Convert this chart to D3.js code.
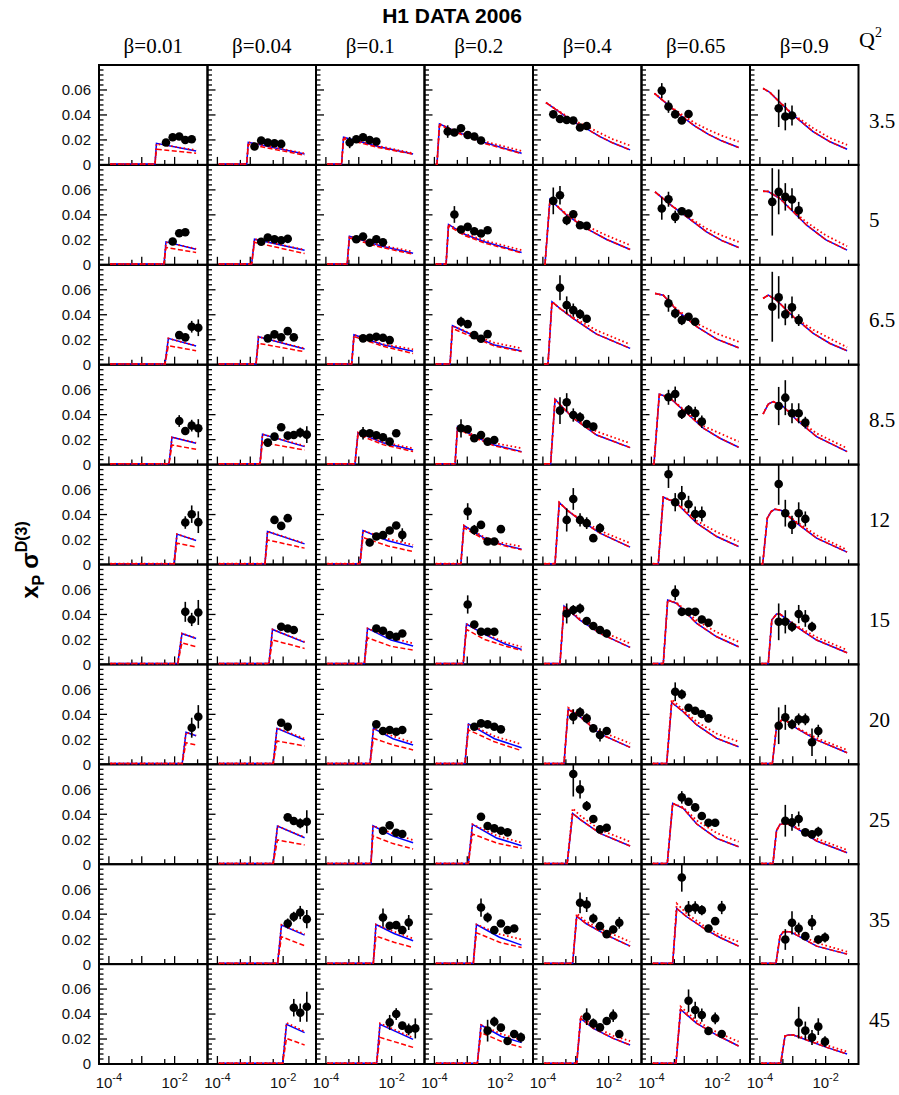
<!DOCTYPE html>
<html>
<head>
<meta charset="utf-8">
<script src="https://cdn.jsdelivr.net/npm/d3@7/dist/d3.min.js"></script>
<style>
  body { margin: 0; background: #fff; }
  svg { display: block; }
</style>
</head>
<body>
<svg id="chart" width="899" height="1095"></svg>
<script>
// Column and row headings
const betaLabels = ["0.01", "0.04", "0.1", "0.2", "0.4", "0.65", "0.9"];
const q2Labels = ["3.5", "5", "6.5", "8.5", "12", "15", "20", "25", "35", "45"];
const yTickLabels = [0, 0.02, 0.04, 0.06];
const xTickLabels = [{ v: 1e-4, exp: "-4" }, { v: 1e-2, exp: "-2" }];

// Measured points: [row (Q2), column (beta), x_IP values, x_P sigma values, errors]
const measured = [
  [0, 0, [5.46e-3, 8.73e-3, 1.38e-2, 2.11e-2, 3.31e-2], [0.0179, 0.0221, 0.0227, 0.0200, 0.0205], [0.002, 0.002, 0.002, 0.002, 0.002]],
  [0, 1, [1.35e-3, 2.15e-3, 3.42e-3, 5.46e-3, 8.73e-3], [0.0147, 0.0195, 0.0179, 0.0173, 0.0168], [0.002, 0.002, 0.002, 0.002, 0.002]],
  [0, 2, [5.3e-4, 8.41e-4, 1.35e-3, 2.15e-3, 3.42e-3], [0.0179, 0.0205, 0.0221, 0.0200, 0.0187], [0.0045, 0.002, 0.002, 0.002, 0.002]],
  [0, 3, [2.54e-4, 4.06e-4, 6.45e-4, 1.031e-3, 1.637e-3, 2.62e-3], [0.0267, 0.0259, 0.0293, 0.0240, 0.0227, 0.0195], [0.005, 0.002, 0.002, 0.002, 0.002, 0.002]],
  [0, 4, [2.07e-4, 3.31e-4, 5.3e-4, 8.41e-4, 1.35e-3, 2.15e-3], [0.0405, 0.0368, 0.0360, 0.0355, 0.0299, 0.0312], [0.003, 0.002, 0.002, 0.002, 0.002, 0.002]],
  [0, 5, [2.07e-4, 3.31e-4, 5.3e-4, 8.41e-4, 1.35e-3], [0.0595, 0.0467, 0.0405, 0.0355, 0.0408], [0.006, 0.005, 0.003, 0.002, 0.002]],
  [0, 6, [3.73e-4, 5.93e-4, 9.48e-4], [0.0453, 0.0387, 0.0395], [0.015, 0.011, 0.008]],

  [1, 0, [8.73e-3, 1.38e-2, 2.11e-2], [0.0187, 0.0253, 0.0261], [0.002, 0.002, 0.002]],
  [1, 1, [2.15e-3, 3.42e-3, 5.46e-3, 8.73e-3, 1.38e-2], [0.0184, 0.0219, 0.0205, 0.0197, 0.0208], [0.002, 0.002, 0.002, 0.002, 0.002]],
  [1, 2, [8.41e-4, 1.35e-3, 2.15e-3, 3.42e-3, 5.46e-3], [0.0205, 0.0227, 0.0176, 0.0205, 0.0181], [0.002, 0.002, 0.002, 0.002, 0.002]],
  [1, 3, [4.06e-4, 6.45e-4, 1.031e-3, 1.637e-3, 2.62e-3, 4.16e-3], [0.0403, 0.0283, 0.0304, 0.0269, 0.0251, 0.0277], [0.0067, 0.002, 0.002, 0.002, 0.002, 0.002]],
  [1, 4, [2.07e-4, 3.31e-4, 5.3e-4, 8.41e-4, 1.35e-3, 2.15e-3], [0.0512, 0.0557, 0.0357, 0.0405, 0.0317, 0.0312], [0.0107, 0.0075, 0.004, 0.003, 0.003, 0.003]],
  [1, 5, [2.07e-4, 3.31e-4, 5.3e-4, 8.41e-4, 1.35e-3], [0.0451, 0.0525, 0.0384, 0.0429, 0.0411], [0.009, 0.006, 0.005, 0.003, 0.003]],
  [1, 6, [2.38e-4, 3.73e-4, 5.93e-4, 9.48e-4, 1.515e-3], [0.0504, 0.0584, 0.0544, 0.0523, 0.0437], [0.027, 0.018, 0.011, 0.009, 0.0067]],

  [2, 0, [1.38e-2, 2.11e-2, 3.31e-2, 5.25e-2], [0.0237, 0.0219, 0.0304, 0.0296], [0.002, 0.002, 0.0047, 0.0067]],
  [2, 1, [3.42e-3, 5.46e-3, 8.73e-3, 1.38e-2, 2.11e-2], [0.0211, 0.0243, 0.0219, 0.0269, 0.0219], [0.002, 0.002, 0.002, 0.002, 0.002]],
  [2, 2, [1.35e-3, 2.15e-3, 3.42e-3, 5.46e-3, 8.73e-3], [0.0211, 0.0216, 0.0224, 0.0216, 0.0197], [0.002, 0.002, 0.002, 0.002, 0.002]],
  [2, 3, [6.45e-4, 1.031e-3, 1.637e-3, 2.62e-3, 4.16e-3], [0.0344, 0.0325, 0.0237, 0.0208, 0.0245], [0.004, 0.002, 0.002, 0.002, 0.002]],
  [2, 4, [3.31e-4, 5.3e-4, 8.41e-4, 1.35e-3, 2.15e-3], [0.0616, 0.0477, 0.0437, 0.0405, 0.0368], [0.01, 0.007, 0.0053, 0.004, 0.003]],
  [2, 5, [3.31e-4, 5.3e-4, 8.41e-4, 1.35e-3, 2.15e-3], [0.0491, 0.0411, 0.0357, 0.0384, 0.0344], [0.0067, 0.004, 0.004, 0.003, 0.003]],
  [2, 6, [2.38e-4, 3.73e-4, 5.93e-4, 9.48e-4, 1.515e-3], [0.0464, 0.0539, 0.0403, 0.0459, 0.0357], [0.028, 0.017, 0.0087, 0.0087, 0.0047]],

  [3, 0, [1.38e-2, 2.11e-2, 3.31e-2, 5.25e-2], [0.0349, 0.0269, 0.0312, 0.0291], [0.0047, 0.002, 0.0047, 0.0073]],
  [3, 1, [3.42e-3, 5.46e-3, 8.73e-3, 1.38e-2, 2.11e-2, 3.31e-2, 5.25e-2], [0.0176, 0.0224, 0.0299, 0.0232, 0.0237, 0.0256, 0.0240], [0.003, 0.002, 0.002, 0.002, 0.002, 0.004, 0.0067]],
  [3, 2, [1.35e-3, 2.15e-3, 3.42e-3, 5.46e-3, 8.73e-3, 1.38e-2], [0.0251, 0.0251, 0.0235, 0.0219, 0.0184, 0.0251], [0.005, 0.002, 0.002, 0.002, 0.002, 0.002]],
  [3, 3, [6.45e-4, 1.031e-3, 1.637e-3, 2.62e-3, 4.16e-3, 6.64e-3], [0.0291, 0.0283, 0.0211, 0.0237, 0.0184, 0.0197], [0.0073, 0.002, 0.002, 0.002, 0.002, 0.002]],
  [3, 4, [3.31e-4, 5.3e-4, 8.41e-4, 1.35e-3, 2.15e-3, 3.42e-3], [0.0432, 0.0499, 0.0397, 0.0379, 0.0325, 0.0304], [0.0107, 0.0073, 0.0053, 0.004, 0.003, 0.003]],
  [3, 5, [3.31e-4, 5.3e-4, 8.41e-4, 1.35e-3, 2.15e-3, 3.42e-3], [0.0539, 0.0565, 0.0405, 0.0437, 0.0411, 0.0344], [0.006, 0.006, 0.004, 0.004, 0.0053, 0.005]],
  [3, 6, [3.73e-4, 5.93e-4, 9.48e-4, 1.515e-3, 2.41e-3], [0.0469, 0.0536, 0.0411, 0.0411, 0.0336], [0.0153, 0.014, 0.008, 0.008, 0.0047]],

  [4, 0, [2.11e-2, 3.31e-2, 5.25e-2], [0.0336, 0.0403, 0.0339], [0.005, 0.007, 0.0087]],
  [4, 1, [5.46e-3, 8.73e-3, 1.38e-2], [0.0357, 0.0309, 0.0371], [0.003, 0.003, 0.003]],
  [4, 2, [2.15e-3, 3.42e-3, 5.46e-3, 8.73e-3, 1.38e-2, 2.11e-2], [0.0176, 0.0224, 0.0235, 0.0272, 0.0312, 0.0237], [0.003, 0.002, 0.002, 0.002, 0.002, 0.0053]],
  [4, 3, [1.031e-3, 1.637e-3, 2.62e-3, 4.16e-3, 6.64e-3, 1.055e-2], [0.0424, 0.0277, 0.0317, 0.0184, 0.0184, 0.0283], [0.0067, 0.004, 0.002, 0.002, 0.002, 0.002]],
  [4, 4, [5.3e-4, 8.41e-4, 1.35e-3, 2.15e-3, 3.42e-3, 5.46e-3], [0.0357, 0.0525, 0.0357, 0.0331, 0.0211, 0.0291], [0.0093, 0.0087, 0.0053, 0.0047, 0.003, 0.004]],
  [4, 5, [3.31e-4, 5.3e-4, 8.41e-4, 1.35e-3, 2.15e-3, 3.42e-3], [0.0723, 0.0499, 0.0549, 0.0483, 0.0405, 0.0405], [0.011, 0.0073, 0.008, 0.0067, 0.006, 0.006]],
  [4, 6, [3.73e-4, 5.93e-4, 9.48e-4, 1.515e-3, 2.41e-3], [0.0645, 0.0411, 0.0317, 0.0411, 0.0365], [0.0167, 0.0107, 0.0073, 0.0087, 0.006]],

  [5, 0, [2.11e-2, 3.31e-2, 5.25e-2], [0.0421, 0.0360, 0.0416], [0.008, 0.0053, 0.01]],
  [5, 1, [8.73e-3, 1.38e-2, 2.11e-2], [0.0301, 0.0288, 0.0275], [0.002, 0.002, 0.002]],
  [5, 2, [3.42e-3, 5.46e-3, 8.73e-3, 1.38e-2, 2.11e-2], [0.0288, 0.0269, 0.0235, 0.0221, 0.0248], [0.002, 0.002, 0.002, 0.002, 0.002]],
  [5, 3, [1.031e-3, 1.637e-3, 2.62e-3, 4.16e-3, 6.64e-3], [0.0480, 0.0320, 0.0261, 0.0261, 0.0261], [0.0073, 0.002, 0.002, 0.002, 0.002]],
  [5, 4, [5.3e-4, 8.41e-4, 1.35e-3, 2.15e-3, 3.42e-3, 5.46e-3, 8.73e-3], [0.0408, 0.0435, 0.0448, 0.0347, 0.0307, 0.0275, 0.0248], [0.008, 0.004, 0.004, 0.003, 0.003, 0.003, 0.003]],
  [5, 5, [5.3e-4, 8.41e-4, 1.35e-3, 2.15e-3, 3.42e-3, 5.46e-3], [0.0573, 0.0421, 0.0421, 0.0421, 0.0360, 0.0333], [0.006, 0.003, 0.003, 0.003, 0.003, 0.003]],
  [5, 6, [3.73e-4, 5.93e-4, 9.48e-4, 1.515e-3, 2.41e-3, 3.85e-3], [0.0341, 0.0341, 0.0301, 0.0403, 0.0368, 0.0301], [0.0147, 0.0093, 0.004, 0.0073, 0.0067, 0.004]],

  [6, 0, [3.31e-2, 5.25e-2], [0.0293, 0.0381], [0.008, 0.0093]],
  [6, 1, [8.73e-3, 1.38e-2], [0.0333, 0.0301], [0.002, 0.002]],
  [6, 2, [3.42e-3, 5.46e-3, 8.73e-3, 1.38e-2, 2.11e-2], [0.0320, 0.0267, 0.0275, 0.0261, 0.0275], [0.002, 0.002, 0.002, 0.002, 0.002]],
  [6, 3, [1.637e-3, 2.62e-3, 4.16e-3, 6.64e-3, 1.055e-2], [0.0301, 0.0328, 0.0320, 0.0301, 0.0280], [0.002, 0.002, 0.002, 0.002, 0.002]],
  [6, 4, [8.41e-4, 1.35e-3, 2.15e-3, 3.42e-3, 5.46e-3, 8.73e-3], [0.0381, 0.0416, 0.0368, 0.0288, 0.0235, 0.0267], [0.006, 0.004, 0.004, 0.003, 0.0053, 0.003]],
  [6, 5, [5.3e-4, 8.41e-4, 1.35e-3, 2.15e-3, 3.42e-3, 5.46e-3], [0.0581, 0.0560, 0.0453, 0.0429, 0.0403, 0.0368], [0.0075, 0.004, 0.003, 0.003, 0.003, 0.003]],
  [6, 6, [3.73e-4, 5.93e-4, 9.48e-4, 1.515e-3, 2.41e-3, 3.85e-3, 5.98e-3], [0.0309, 0.0376, 0.0320, 0.0360, 0.0360, 0.0176, 0.0267], [0.0147, 0.01, 0.004, 0.0047, 0.0047, 0.011, 0.005]],

  [7, 1, [1.38e-2, 2.11e-2, 3.31e-2, 5.25e-2], [0.0375, 0.0346, 0.0327, 0.0340], [0.002, 0.002, 0.004, 0.0093]],
  [7, 2, [5.46e-3, 8.73e-3, 1.38e-2, 2.11e-2], [0.0268, 0.0311, 0.0252, 0.0242], [0.002, 0.002, 0.002, 0.002]],
  [7, 3, [2.62e-3, 4.16e-3, 6.64e-3, 1.055e-2, 1.687e-2], [0.0380, 0.0306, 0.0287, 0.0268, 0.0255], [0.002, 0.002, 0.002, 0.002, 0.002]],
  [7, 4, [8.41e-4, 1.35e-3, 2.15e-3, 3.42e-3, 5.46e-3, 8.73e-3], [0.0722, 0.0599, 0.0466, 0.0362, 0.0279, 0.0292], [0.018, 0.0073, 0.004, 0.003, 0.003, 0.003]],
  [7, 5, [8.41e-4, 1.35e-3, 2.15e-3, 3.42e-3, 5.46e-3, 8.73e-3], [0.0535, 0.0500, 0.0455, 0.0386, 0.0332, 0.0332], [0.005, 0.003, 0.003, 0.003, 0.003, 0.003]],
  [7, 6, [5.93e-4, 9.48e-4, 1.515e-3, 2.41e-3, 3.85e-3, 5.98e-3], [0.0348, 0.0335, 0.0362, 0.0255, 0.0239, 0.0260], [0.0127, 0.0067, 0.006, 0.003, 0.003, 0.004]],

  [8, 1, [1.38e-2, 2.11e-2, 3.31e-2, 5.25e-2], [0.0325, 0.0379, 0.0413, 0.0360], [0.004, 0.004, 0.0053, 0.0073]],
  [8, 2, [5.46e-3, 8.73e-3, 1.38e-2, 2.11e-2, 3.31e-2], [0.0373, 0.0307, 0.0312, 0.0272, 0.0333], [0.0073, 0.002, 0.002, 0.002, 0.006]],
  [8, 3, [2.62e-3, 4.16e-3, 6.64e-3, 1.055e-2, 1.687e-2, 2.68e-2], [0.0453, 0.0373, 0.0272, 0.0325, 0.0272, 0.0285], [0.0073, 0.004, 0.002, 0.002, 0.002, 0.002]],
  [8, 4, [1.35e-3, 2.15e-3, 3.42e-3, 5.46e-3, 8.73e-3, 1.38e-2, 2.11e-2], [0.0491, 0.0477, 0.0365, 0.0304, 0.0240, 0.0277, 0.0331], [0.0083, 0.006, 0.004, 0.003, 0.003, 0.003, 0.0047]],
  [8, 5, [8.41e-4, 1.35e-3, 2.15e-3, 3.42e-3, 5.46e-3, 8.73e-3, 1.38e-2], [0.0693, 0.0445, 0.0453, 0.0432, 0.0285, 0.0344, 0.0453], [0.0113, 0.006, 0.005, 0.004, 0.003, 0.003, 0.0053]],
  [8, 6, [5.93e-4, 9.48e-4, 1.515e-3, 2.41e-3, 3.85e-3, 5.98e-3, 9.56e-3], [0.0197, 0.0331, 0.0285, 0.0224, 0.0333, 0.0197, 0.0213], [0.0083, 0.0093, 0.0047, 0.003, 0.006, 0.003, 0.004]],

  [9, 1, [2.11e-2, 3.31e-2, 5.25e-2], [0.0451, 0.0411, 0.0459], [0.007, 0.0073, 0.012]],
  [9, 2, [8.73e-3, 1.38e-2, 2.11e-2, 3.31e-2, 5.25e-2], [0.0333, 0.0400, 0.0307, 0.0277, 0.0285], [0.006, 0.0047, 0.003, 0.0047, 0.008]],
  [9, 3, [4.16e-3, 6.64e-3, 1.055e-2, 1.687e-2, 2.68e-2, 4.28e-2], [0.0267, 0.0339, 0.0291, 0.0184, 0.0240, 0.0213], [0.0087, 0.004, 0.003, 0.003, 0.003, 0.004]],
  [9, 4, [2.15e-3, 3.42e-3, 5.46e-3, 8.73e-3, 1.38e-2, 2.11e-2], [0.0379, 0.0325, 0.0293, 0.0344, 0.0387, 0.0240], [0.0067, 0.004, 0.003, 0.003, 0.005, 0.003]],
  [9, 5, [1.35e-3, 2.15e-3, 3.42e-3, 5.46e-3, 8.73e-3, 1.38e-2], [0.0507, 0.0432, 0.0392, 0.0264, 0.0365, 0.0240], [0.009, 0.0067, 0.0053, 0.003, 0.0047, 0.003]],
  [9, 6, [1.515e-3, 2.41e-3, 3.85e-3, 5.98e-3, 9.56e-3], [0.0331, 0.0267, 0.0213, 0.0299, 0.0179], [0.0127, 0.0073, 0.006, 0.0067, 0.0043]]
];

// Fit predictions: [row, column, x_IP knots, blue solid, red dashed (null = same as blue), red dotted]
const models = [
  [0, 0, [1.1e-4, 2.53e-3, 2.8e-3, 4.5e-2], [0, 0, 0.0173, 0.0112], [0, 0, 0.0125, 0.0093], [0, 0, 0.0168, 0.0118]],
  [0, 1, [1.1e-4, 7.8e-4, 8.7e-4, 4.5e-2], [0, 0, 0.0181, 0.0088], [0, 0, 0.0165, 0.0078], [0, 0, 0.0181, 0.0092]],
  [0, 2, [1.1e-4, 3.0e-4, 3.45e-4, 3.85e-3, 4.5e-2], [0, 0, 0.0221, 0.0148, 0.0088], [0, 0, 0.0210, 0.0140, 0.0085], [0, 0, 0.0221, 0.0152, 0.0093]],
  [0, 3, [1.1e-4, 1.2e-4, 1.43e-4, 4.09e-4, 3.34e-3, 4.5e-2], [0, 0, 0.0328, 0.0272, 0.0179, 0.0093], [0, 0, 0.0320, 0.0265, 0.0172, 0.0090], [0, 0, 0.0328, 0.0275, 0.0188, 0.0112]],
  [0, 4, [1.24e-4, 3.31e-4, 8.24e-4, 2.12e-3, 5.46e-3, 1.36e-2, 4.5e-2], [0.0499, 0.0420, 0.0347, 0.0290, 0.0227, 0.0175, 0.0120], null, [0.0499, 0.0425, 0.0360, 0.0310, 0.0255, 0.0205, 0.0155]],
  [0, 5, [1.24e-4, 3.31e-4, 8.24e-4, 2.12e-3, 5.46e-3, 1.36e-2, 4.5e-2], [0.0573, 0.0478, 0.0390, 0.0310, 0.0245, 0.0193, 0.0139], null, [0.0573, 0.0480, 0.0405, 0.0335, 0.0280, 0.0235, 0.0187]],
  [0, 6, [1.25e-4, 2.03e-4, 4.09e-4, 1.017e-3, 4.13e-3, 1.36e-2, 4.5e-2], [0.0613, 0.0580, 0.0500, 0.0400, 0.0267, 0.0185, 0.0125], null, [0.0613, 0.0580, 0.0500, 0.0405, 0.0295, 0.0215, 0.0160]],

  [1, 0, [1.1e-4, 4.75e-3, 5.46e-3, 4.5e-2], [0, 0, 0.0184, 0.0125], [0, 0, 0.0139, 0.0099], [0, 0, 0.0180, 0.0128]],
  [1, 1, [1.1e-4, 1.1e-3, 1.345e-3, 4.5e-2], [0, 0, 0.0205, 0.0117], [0, 0, 0.0180, 0.0090], [0, 0, 0.0205, 0.0120]],
  [1, 2, [1.1e-4, 4.45e-4, 5.2e-4, 4.75e-3, 4.5e-2], [0, 0, 0.0229, 0.0150, 0.0093], [0, 0, 0.0215, 0.0140, 0.0085], [0, 0, 0.0229, 0.0157, 0.0105]],
  [1, 3, [1.1e-4, 2.27e-4, 2.69e-4, 8.24e-4, 3.34e-3, 4.5e-2], [0, 0, 0.0323, 0.0245, 0.0185, 0.0099], [0, 0, 0.0310, 0.0235, 0.0175, 0.0095], [0, 0, 0.0323, 0.0250, 0.0195, 0.0117]],
  [1, 4, [1.1e-4, 1.16e-4, 1.64e-4, 5.3e-4, 2.15e-3, 8.73e-3, 4.5e-2], [0, 0, 0.0523, 0.0397, 0.0290, 0.0203, 0.0123], null, [0, 0, 0.0523, 0.0405, 0.0310, 0.0235, 0.0157]],
  [1, 5, [1.29e-4, 4.6e-4, 1.19e-3, 4.75e-3, 1.36e-2, 4.5e-2], [0.0584, 0.0464, 0.0384, 0.0264, 0.0195, 0.0139], null, [0.0584, 0.0464, 0.0390, 0.0290, 0.0235, 0.0184]],
  [1, 6, [1.25e-4, 1.8e-4, 4.09e-4, 6.5e-4, 2.65e-3, 1.026e-2, 4.5e-2], [0.0589, 0.0587, 0.0531, 0.0477, 0.0317, 0.0200, 0.0117], null, [0.0589, 0.0587, 0.0531, 0.0477, 0.0340, 0.0235, 0.0149]],

  [2, 0, [1.1e-4, 5.09e-3, 6.45e-3, 4.5e-2], [0, 0, 0.0211, 0.0149], [0, 0, 0.0152, 0.0112], [0, 0, 0.0210, 0.0152]],
  [2, 1, [1.1e-4, 1.5e-3, 1.78e-3, 4.5e-2], [0, 0, 0.0224, 0.0125], [0, 0, 0.0171, 0.0104], [0, 0, 0.0224, 0.0130]],
  [2, 2, [1.1e-4, 6.1e-4, 7.16e-4, 5.46e-3, 4.5e-2], [0, 0, 0.0240, 0.0160, 0.0107], [0, 0, 0.0225, 0.0148, 0.0090], [0, 0, 0.0240, 0.0165, 0.0123]],
  [2, 3, [1.1e-4, 3.0e-4, 3.55e-4, 1.66e-3, 6.74e-3, 4.5e-2], [0, 0, 0.0312, 0.0230, 0.0157, 0.0109], [0, 0, 0.0290, 0.0215, 0.0150, 0.0105], [0, 0, 0.0312, 0.0237, 0.0175, 0.0131]],
  [2, 4, [1.1e-4, 1.43e-4, 1.89e-4, 3.31e-4, 8.24e-4, 4.3e-3, 4.5e-2], [0, 0, 0.0504, 0.0450, 0.0371, 0.0245, 0.0131], null, [0, 0, 0.0504, 0.0450, 0.0380, 0.0275, 0.0163]],
  [2, 5, [1.29e-4, 2.3e-4, 5.9e-4, 2.4e-3, 9.7e-3, 4.5e-2], [0.0571, 0.0557, 0.0437, 0.0304, 0.0205, 0.0136], null, [0.0571, 0.0557, 0.0445, 0.0330, 0.0250, 0.0184]],
  [2, 6, [1.25e-4, 1.8e-4, 3.2e-4, 1.04e-3, 4.2e-3, 1.36e-2, 4.5e-2], [0.0531, 0.0557, 0.0517, 0.0384, 0.0251, 0.0170, 0.0112], null, [0.0531, 0.0557, 0.0517, 0.0384, 0.0280, 0.0210, 0.0139]],

  [3, 0, [1.1e-4, 6.74e-3, 8.32e-3, 4.5e-2], [0, 0, 0.0219, 0.0171], [0, 0, 0.0157, 0.0123], [0, 0, 0.0219, 0.0175]],
  [3, 1, [1.1e-4, 1.98e-3, 2.36e-3, 4.5e-2], [0, 0, 0.0243, 0.0144], [0, 0, 0.0176, 0.0117], [0, 0, 0.0243, 0.0150]],
  [3, 2, [1.1e-4, 7.68e-4, 9.48e-4, 5.46e-3, 4.5e-2], [0, 0, 0.0256, 0.0175, 0.0117], [0, 0, 0.0240, 0.0160, 0.0105], [0, 0, 0.0256, 0.0180, 0.0130]],
  [3, 3, [1.1e-4, 4.25e-4, 5.05e-4, 1.66e-3, 6.74e-3, 4.5e-2], [0, 0, 0.0304, 0.0224, 0.0157, 0.0104], [0, 0, 0.0290, 0.0215, 0.0150, 0.0100], [0, 0, 0.0304, 0.0232, 0.0172, 0.0131]],
  [3, 4, [1.1e-4, 1.72e-4, 2.34e-4, 4.09e-4, 8.41e-4, 4.3e-3, 4.5e-2], [0, 0, 0.0523, 0.0455, 0.0371, 0.0237, 0.0136], null, [0, 0, 0.0523, 0.0455, 0.0380, 0.0265, 0.0171]],
  [3, 5, [1.1e-4, 1.2e-4, 1.74e-4, 3.43e-4, 9.3e-4, 3.8e-3, 1.22e-2, 4.5e-2], [0, 0, 0.0563, 0.0539, 0.0437, 0.0291, 0.0211, 0.0139], null, [0, 0, 0.0563, 0.0539, 0.0445, 0.0310, 0.0250, 0.0184]],
  [3, 6, [1.25e-4, 1.8e-4, 2.55e-4, 5.2e-4, 1.32e-3, 5.3e-3, 4.5e-2], [0.0405, 0.0485, 0.0504, 0.0464, 0.0357, 0.0224, 0.0104], null, [0.0405, 0.0485, 0.0504, 0.0464, 0.0370, 0.0250, 0.0131]],

  [4, 0, [1.1e-4, 9.56e-3, 1.18e-2, 4.5e-2], [0, 0, 0.0243, 0.0192], [0, 0, 0.0171, 0.0139], [0, 0, 0.0243, 0.0195]],
  [4, 1, [1.1e-4, 2.8e-3, 3.34e-3, 4.5e-2], [0, 0, 0.0264, 0.0165], [0, 0, 0.0197, 0.0131], [0, 0, 0.0264, 0.0170]],
  [4, 2, [1.1e-4, 1.09e-3, 1.345e-3, 7.75e-3, 4.5e-2], [0, 0, 0.0272, 0.0190, 0.0139], [0, 0, 0.0216, 0.0148, 0.0104], [0, 0, 0.0272, 0.0205, 0.0157]],
  [4, 3, [1.1e-4, 6.4e-4, 7.9e-4, 3.34e-3, 1.36e-2, 4.5e-2], [0, 0, 0.0312, 0.0210, 0.0155, 0.0123], [0, 0, 0.0295, 0.0200, 0.0150, 0.0118], [0, 0, 0.0312, 0.0218, 0.0168, 0.0144]],
  [4, 4, [1.1e-4, 2.34e-4, 3.15e-4, 5.8e-4, 1.345e-3, 5.46e-3, 4.5e-2], [0, 0, 0.0496, 0.0430, 0.0357, 0.0251, 0.0139], null, [0, 0, 0.0496, 0.0430, 0.0365, 0.0270, 0.0171]],
  [4, 5, [1.1e-4, 1.62e-4, 2.3e-4, 5.9e-4, 2.4e-3, 9.7e-3, 4.5e-2], [0, 0, 0.0539, 0.0491, 0.0331, 0.0224, 0.0144], null, [0, 0, 0.0539, 0.0500, 0.0350, 0.0260, 0.0184]],
  [4, 6, [1.1e-4, 1.22e-4, 1.68e-4, 2.2e-4, 2.88e-4, 4.55e-4, 1.32e-3, 5.3e-3, 4.5e-2], [0, 0, 0.0371, 0.0424, 0.0443, 0.0432, 0.0331, 0.0211, 0.0099], null, [0, 0, 0.0371, 0.0424, 0.0443, 0.0432, 0.0340, 0.0235, 0.0117]],

  [5, 0, [1.1e-4, 1.24e-2, 1.675e-2, 4.5e-2], [0, 0, 0.0248, 0.0208], [0, 0, 0.0173, 0.0141], [0, 0, 0.0248, 0.0210]],
  [5, 1, [1.1e-4, 3.7e-3, 4.75e-3, 4.5e-2], [0, 0, 0.0280, 0.0176], [0, 0, 0.0195, 0.0128], [0, 0, 0.0280, 0.0180]],
  [5, 2, [1.1e-4, 1.48e-3, 1.85e-3, 9.56e-3, 4.5e-2], [0, 0, 0.0288, 0.0195, 0.0147], [0, 0, 0.0213, 0.0145, 0.0115], [0, 0, 0.0288, 0.0215, 0.0168]],
  [5, 3, [1.1e-4, 7.55e-4, 9.48e-4, 3.34e-3, 1.36e-2, 4.5e-2], [0, 0, 0.0323, 0.0240, 0.0165, 0.0120], [0, 0, 0.0280, 0.0200, 0.0148, 0.0112], [0, 0, 0.0323, 0.0245, 0.0178, 0.0141]],
  [5, 4, [1.1e-4, 3.31e-4, 4.39e-4, 1.345e-3, 5.46e-3, 4.5e-2], [0, 0, 0.0467, 0.0355, 0.0248, 0.0136], null, [0, 0, 0.0467, 0.0365, 0.0270, 0.0168]],
  [5, 5, [1.1e-4, 2.3e-4, 3.13e-4, 5.9e-4, 2.4e-3, 9.7e-3, 4.5e-2], [0, 0, 0.0515, 0.0488, 0.0328, 0.0221, 0.0141], null, [0, 0, 0.0515, 0.0495, 0.0350, 0.0258, 0.0181]],
  [5, 6, [1.1e-4, 1.8e-4, 2.3e-4, 3.2e-4, 4.09e-4, 1.32e-3, 5.3e-3, 4.5e-2], [0, 0, 0.0355, 0.0403, 0.0403, 0.0301, 0.0195, 0.0093], null, [0, 0, 0.0355, 0.0403, 0.0403, 0.0310, 0.0218, 0.0115]],

  [6, 0, [1.1e-4, 1.7e-2, 2.22e-2, 4.5e-2], [0, 0, 0.0256, 0.0229], [0, 0, 0.0173, 0.0155], [0, 0, 0.0256, 0.0230]],
  [6, 1, [1.1e-4, 5.0e-3, 6.5e-3, 4.5e-2], [0, 0, 0.0288, 0.0195], [0, 0, 0.0187, 0.0147], [0, 0, 0.0290, 0.0205]],
  [6, 2, [1.1e-4, 2.2e-3, 2.8e-3, 1.1e-2, 4.5e-2], [0, 0, 0.0288, 0.0205, 0.0155], [0, 0, 0.0208, 0.0155, 0.0115], [0, 0, 0.0288, 0.0225, 0.0173]],
  [6, 3, [1.1e-4, 8.5e-4, 1.09e-3, 6.74e-3, 4.5e-2], [0, 0, 0.0323, 0.0205, 0.0133], [0, 0, 0.0275, 0.0180, 0.0109], [0, 0, 0.0323, 0.0225, 0.0160]],
  [6, 4, [1.1e-4, 4.39e-4, 5.9e-4, 1.345e-3, 5.46e-3, 4.5e-2], [0, 0, 0.0440, 0.0381, 0.0243, 0.0136], null, [0, 0, 0.0453, 0.0390, 0.0265, 0.0168]],
  [6, 5, [1.1e-4, 2.92e-4, 4.15e-4, 9.3e-4, 2.4e-3, 9.7e-3, 4.5e-2], [0, 0, 0.0496, 0.0421, 0.0315, 0.0208, 0.0141], null, [0, 0, 0.0520, 0.0435, 0.0340, 0.0245, 0.0181]],
  [6, 6, [1.1e-4, 2.4e-4, 3.2e-4, 4.55e-4, 5.8e-4, 1.32e-3, 5.3e-3, 4.5e-2], [0, 0, 0.0301, 0.0355, 0.0355, 0.0288, 0.0195, 0.0093], null, [0, 0, 0.0301, 0.0355, 0.0355, 0.0295, 0.0210, 0.0115]],

  [7, 1, [1.1e-4, 5.0e-3, 6.74e-3, 4.5e-2], [0, 0, 0.0306, 0.0212], [0, 0, 0.0194, 0.0154], [0, 0, 0.0306, 0.0215]],
  [7, 2, [1.1e-4, 2.36e-3, 2.71e-3, 1.1e-2, 4.5e-2], [0, 0, 0.0308, 0.0225, 0.0172], [0, 0, 0.0226, 0.0165, 0.0122], [0, 0, 0.0308, 0.0245, 0.0194]],
  [7, 3, [1.1e-4, 1.08e-3, 1.44e-3, 7.75e-3, 4.5e-2], [0, 0, 0.0319, 0.0210, 0.0148], [0, 0, 0.0242, 0.0170, 0.0127], [0, 0, 0.0319, 0.0230, 0.0172]],
  [7, 4, [1.1e-4, 5.5e-4, 8.05e-4, 1.345e-3, 5.46e-3, 4.5e-2], [0, 0, 0.0407, 0.0359, 0.0247, 0.0146], null, [0, 0, 0.0447, 0.0390, 0.0275, 0.0180]],
  [7, 5, [1.1e-4, 3.05e-4, 4.45e-4, 9.3e-4, 2.4e-3, 9.7e-3, 4.5e-2], [0, 0, 0.0487, 0.0447, 0.0322, 0.0207, 0.0140], null, [0, 0, 0.0487, 0.0455, 0.0350, 0.0250, 0.0180]],
  [7, 6, [1.1e-4, 2.5e-4, 3.2e-4, 4.09e-4, 6.5e-4, 1.32e-3, 5.3e-3, 4.5e-2], [0, 0, 0.0268, 0.0319, 0.0327, 0.0287, 0.0186, 0.0092], null, [0, 0, 0.0268, 0.0319, 0.0327, 0.0295, 0.0205, 0.0114]],

  [8, 1, [1.1e-4, 6.8e-3, 8.92e-3, 4.5e-2], [0, 0, 0.0312, 0.0232], [0, 0, 0.0219, 0.0147], [0, 0, 0.0315, 0.0240]],
  [8, 2, [1.1e-4, 2.77e-3, 3.34e-3, 1.18e-2, 4.5e-2], [0, 0, 0.0317, 0.0245, 0.0187], [0, 0, 0.0224, 0.0175, 0.0133], [0, 0, 0.0317, 0.0260, 0.0205]],
  [8, 3, [1.1e-4, 1.53e-3, 1.91e-3, 9.56e-3, 4.5e-2], [0, 0, 0.0317, 0.0215, 0.0152], [0, 0, 0.0251, 0.0175, 0.0133], [0, 0, 0.0317, 0.0240, 0.0197]],
  [8, 4, [1.1e-4, 8.05e-4, 1.07e-3, 2.05e-3, 8.73e-3, 4.5e-2], [0, 0, 0.0384, 0.0325, 0.0232, 0.0144], null, [0, 0, 0.0405, 0.0340, 0.0260, 0.0179]],
  [8, 5, [1.1e-4, 4.45e-4, 5.9e-4, 1.19e-3, 4.8e-3, 1.22e-2, 4.5e-2], [0, 0, 0.0445, 0.0379, 0.0272, 0.0213, 0.0144], null, [0, 0, 0.0485, 0.0405, 0.0290, 0.0235, 0.0179]],
  [8, 6, [1.1e-4, 3.09e-4, 4.09e-4, 5.2e-4, 8.24e-4, 1.32e-3, 5.3e-3, 4.5e-2], [0, 0, 0.0224, 0.0259, 0.0259, 0.0232, 0.0144, 0.0080], null, [0, 0, 0.0224, 0.0259, 0.0259, 0.0245, 0.0170, 0.0099]],

  [9, 1, [1.1e-4, 9.7e-3, 1.266e-2, 4.5e-2], [0, 0, 0.0317, 0.0251], [0, 0, 0.0205, 0.0152], [0, 0, 0.0330, 0.0260]],
  [9, 2, [1.1e-4, 3.5e-3, 4.43e-3, 4.5e-2], [0, 0, 0.0317, 0.0197], [0, 0, 0.0213, 0.0133], [0, 0, 0.0325, 0.0210]],
  [9, 3, [1.1e-4, 2.03e-3, 2.62e-3, 1.1e-2, 4.5e-2], [0, 0, 0.0312, 0.0220, 0.0171], [0, 0, 0.0251, 0.0180, 0.0133], [0, 0, 0.0312, 0.0240, 0.0192]],
  [9, 4, [1.1e-4, 1.07e-3, 1.41e-3, 3.42e-3, 1.38e-2, 4.5e-2], [0, 0, 0.0365, 0.0285, 0.0205, 0.0152], null, [0, 0, 0.0384, 0.0305, 0.0225, 0.0184]],
  [9, 5, [1.1e-4, 5.6e-4, 7.75e-4, 2.4e-3, 9.7e-3, 4.5e-2], [0, 0, 0.0437, 0.0325, 0.0232, 0.0144], null, [0, 0, 0.0459, 0.0345, 0.0255, 0.0179]],
  [9, 6, [1.1e-4, 4.3e-4, 5.8e-4, 7.3e-4, 1.04e-3, 2.65e-3, 1.08e-2, 4.5e-2], [0, 0, 0.0224, 0.0232, 0.0232, 0.0192, 0.0133, 0.0080], null, [0, 0, 0.0224, 0.0232, 0.0232, 0.0205, 0.0150, 0.0099]]
];

// ---- layout ----
const gridLeft = 99, gridTop = 65, cellW = 108.5, cellH = 99.9;
const nCols = betaLabels.length, nRows = q2Labels.length;
const sans = "'Liberation Sans', Arial, Helvetica, sans-serif";
const serif = "'Liberation Serif', 'Times New Roman', Times, serif";

const svg = d3.select("#chart");
svg.append("rect").attr("width", 899).attr("height", 1095).attr("fill", "#fff");

const x = d3.scaleLog().domain([5e-5, 0.1]).range([0, cellW]);
const y = d3.scaleLinear().domain([0, 0.08]).range([cellH, 0]).clamp(true);

const panelX = c => gridLeft + c * cellW;
const panelY = r => gridTop + r * cellH;

const layerFrames = svg.append("g");
const layerModels = svg.append("g");
const layerPoints = svg.append("g");

// frames and ticks
const yMinor = d3.range(1, 20).map(i => i * 0.004);
const xMajor = [1e-4, 1e-3, 1e-2];
const xMinor = [5e-4, 5e-3, 5e-2];
for (let r = 0; r < nRows; r++) {
  for (let c = 0; c < nCols; c++) {
    const g = layerFrames.append("g").attr("transform", `translate(${panelX(c)},${panelY(r)})`);
    g.selectAll("line.yt").data(yMinor).join("line")
      .attr("x1", 0).attr("x2", (d, i) => ((i + 1) % 5 === 0 ? 8 : 4.5))
      .attr("y1", d => y(d)).attr("y2", d => y(d))
      .attr("stroke", "#000").attr("stroke-width", 1.3);
    g.selectAll("line.xt").data(xMajor.concat(xMinor)).join("line")
      .attr("x1", d => x(d)).attr("x2", d => x(d))
      .attr("y1", cellH).attr("y2", (d, i) => cellH - (i < 3 ? 8 : 5))
      .attr("stroke", "#000").attr("stroke-width", 1.3);
    g.append("rect").attr("width", cellW).attr("height", cellH)
      .attr("fill", "none").attr("stroke", "#000").attr("stroke-width", 2);
  }
}

// model curves
const line = d3.line().x(d => x(d[0])).y(d => Math.min(y(d[1]), cellH - 0.8));
models.forEach(([r, c, xs, blue, dashed, dotted]) => {
  const g = layerModels.append("g").attr("transform", `translate(${panelX(c)},${panelY(r)})`);
  const pts = vals => xs.map((v, i) => [v, vals[i]]);
  g.append("path").attr("d", line(pts(blue)))
    .attr("fill", "none").attr("stroke", "#0000ff").attr("stroke-width", 1.5);
  g.append("path").attr("d", line(pts(dotted)))
    .attr("fill", "none").attr("stroke", "#ff0000").attr("stroke-width", 1.8)
    .attr("stroke-dasharray", "1.6,2.6");
  g.append("path").attr("d", line(pts(dashed || blue)))
    .attr("fill", "none").attr("stroke", "#ff0000").attr("stroke-width", 1.5)
    .attr("stroke-dasharray", "5,2.5");
});

// measured points with error bars
measured.forEach(([r, c, xs, ys, es]) => {
  const g = layerPoints.append("g").attr("transform", `translate(${panelX(c)},${panelY(r)})`);
  const rows = xs.map((v, i) => ({ x: v, y: ys[i], e: es[i] }));
  g.selectAll("line.err").data(rows).join("line")
    .attr("x1", d => x(d.x)).attr("x2", d => x(d.x))
    .attr("y1", d => y(d.y - d.e)).attr("y2", d => y(d.y + d.e))
    .attr("stroke", "#000").attr("stroke-width", 1.6);
  g.selectAll("circle").data(rows).join("circle")
    .attr("cx", d => x(d.x)).attr("cy", d => y(d.y)).attr("r", 4.3)
    .attr("fill", "#000");
});

// y tick labels on the first column of each row
for (let r = 0; r < nRows; r++) {
  svg.append("g").selectAll("text").data(yTickLabels).join("text")
    .attr("x", gridLeft - 8).attr("y", d => panelY(r) + y(d))
    .attr("dy", "0.36em").attr("text-anchor", "end")
    .attr("font-family", sans).attr("font-size", 15).attr("fill", "#111")
    .text(d => (d === 0 ? "0" : d.toFixed(2)));
}

// x tick labels under each column
for (let c = 0; c < nCols; c++) {
  xTickLabels.forEach(t => {
    const txt = svg.append("text")
      .attr("x", panelX(c) + x(t.v)).attr("y", panelY(nRows) + 24)
      .attr("text-anchor", "middle").attr("font-family", sans).attr("font-size", 15).attr("fill", "#111");
    txt.append("tspan").text("10");
    txt.append("tspan").attr("dy", -7).attr("font-size", 11).text(t.exp);
  });
}

// title
svg.append("text").attr("x", 452).attr("y", 22.5).attr("text-anchor", "middle")
  .attr("font-family", sans).attr("font-weight", "bold").attr("font-size", 21)
  .text("H1 DATA 2006");

// beta headings
betaLabels.forEach((b, c) => {
  svg.append("text").attr("x", panelX(c) + cellW / 2).attr("y", 53)
    .attr("text-anchor", "middle").attr("font-family", serif).attr("font-size", 21)
    .text("\u03b2=" + b);
});

// Q2 heading and row labels
const q2Head = svg.append("text").attr("x", 859).attr("y", 47)
  .attr("font-family", serif).attr("font-size", 22);
q2Head.append("tspan").text("Q");
q2Head.append("tspan").attr("dy", -10).attr("font-size", 14).text("2");

q2Labels.forEach((q, r) => {
  svg.append("text").attr("x", 869).attr("y", panelY(r) + 62.5)
    .attr("font-family", serif).attr("font-size", 21).text(q);
});

// y axis title
const yTitle = svg.append("text").attr("transform", "translate(38,560) rotate(-90)")
  .attr("text-anchor", "middle").attr("font-family", sans).attr("font-weight", "bold")
  .attr("font-size", 24);
yTitle.append("tspan").text("x");
yTitle.append("tspan").attr("dy", 6).attr("font-size", 16).text("P");
yTitle.append("tspan").attr("dy", -6).attr("dx", 6).text("\u03c3");
yTitle.append("tspan").attr("dy", -11).attr("font-size", 16).text("D(3)");
</script>
</body>
</html>
